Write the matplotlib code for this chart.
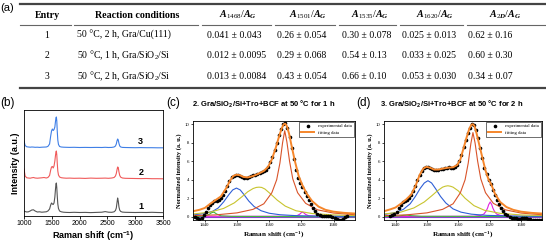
import numpy as np
import matplotlib
matplotlib.use('Agg')
import matplotlib.pyplot as plt

plt.rcParams['font.family'] = 'Liberation Sans'
plt.rcParams['mathtext.fontset'] = 'custom'
plt.rcParams['mathtext.rm'] = 'Liberation Serif'
plt.rcParams['mathtext.it'] = 'Liberation Serif:italic:bold'
plt.rcParams['mathtext.bf'] = 'Liberation Serif:bold'
plt.rcParams['mathtext.sf'] = 'Liberation Sans:bold'

# ---- (a) table ----
headers = ['Entry', 'Reaction conditions', r'$\mathit{A_{1468}/A_{G}}$', r'$\mathit{A_{1501}/A_{G}}$',
           r'$\mathit{A_{1535}/A_{G}}$', r'$\mathit{A_{1620}/A_{G}}$', r'$\mathit{A_{2D}/A_{G}}$']
entries = ['1', '2', '3']
conditions = ['50 °C, 2 h, Gra/Cu(111)', r'50 °C, 1 h, Gra/SiO$_2$/Si', r'50 °C, 2 h, Gra/SiO$_2$/Si']
a1468 = ['0.041 ± 0.043', '0.012 ± 0.0095', '0.013 ± 0.0084']
a1501 = ['0.26 ± 0.054', '0.29 ± 0.068', '0.43 ± 0.054']
a1535 = ['0.30 ± 0.078', '0.54 ± 0.13', '0.66 ± 0.10']
a1620 = ['0.025 ± 0.013', '0.033 ± 0.025', '0.053 ± 0.030']
a2d = ['0.62 ± 0.16', '0.60 ± 0.30', '0.34 ± 0.07']

# ---- (b) Raman spectra ----
spec_x = [1000, 1020, 1050, 1080, 1110, 1140, 1170, 1200, 1240, 1280, 1320, 1360, 1400, 1430, 1460,
          1480, 1495, 1510, 1525, 1540, 1555, 1565, 1575, 1582, 1590, 1598, 1608, 1620, 1640, 1670,
          1710, 1760, 1820, 1900, 2000, 2100, 2200, 2300, 2400, 2460, 2520, 2580, 2620, 2645, 2660,
          2672, 2684, 2695, 2708, 2722, 2740, 2770, 2820, 2900, 3000, 3100, 3200, 3300, 3400, 3500]
spec1 = [2, 1.5, 1, 1.2, 2, 3, 3.2, 2, 1, 1.2, 0.8, 1, 1.2, 2, 4,
         8, 10, 9, 8.5, 10, 16, 23, 29, 30, 25, 17, 9, 4.5, 2, 1.2,
         0.8, 0.6, 0.5, 0.7, 0.5, 0.6, 0.4, 0.6, 0.8, 1.4, 0.8, 0.7, 1.2, 2.5, 5,
         10, 15, 12, 6, 2.8, 1.5, 0.9, 0.7, 0.6, 0.5, 0.6, 0.5, 0.7, 0.5, 0.4]
spec2 = [10, 3, 1.2, 1, 0.8, 1.2, 1.5, 1.0, 0.8, 1.0, 1.2, 1.5, 1.0, 1.5, 3.5,
         9, 12, 12.5, 11, 13, 18, 23, 27, 28, 24, 16, 8, 4, 2, 1.3,
         1, 0.8, 0.9, 0.7, 0.8, 0.6, 0.9, 0.7, 0.8, 0.9, 0.7, 1.0, 1.5, 3, 5.5,
         9, 12, 11.5, 7, 3.5, 1.8, 1.0, 0.7, 0.6, 0.5, 0.4, 0.5, 0.3, 0.3, 0.2]
spec3 = [7, 2.5, 1.2, 1.0, 0.8, 1.0, 0.9, 0.7, 0.8, 0.6, 0.8, 0.9, 1.0, 1.6, 4,
         12, 17, 19, 17.5, 18.5, 21, 26, 30, 31, 27, 17, 8, 3.5, 1.5, 1.0,
         0.8, 0.7, 0.6, 0.7, 0.5, 0.6, 0.5, 0.6, 0.5, 0.7, 0.5, 0.6, 1.0, 2, 4,
         7, 9, 8, 4.5, 2, 1.0, 0.6, 0.5, 0.4, 0.3, 0.4, 0.3, 0.3, 0.2, 0.2]
spec_offsets = [3, 37, 68]
spec_names = ['1', '2', '3']
spec_colors = ['#555555', '#f05a5a', '#3f7fe6']

# ---- (c) 1 h fit ----
c_exp_x = [1422, 1426, 1430, 1434, 1438, 1442, 1446, 1450, 1454, 1458, 1462, 1466, 1470, 1474, 1478,
           1482, 1486, 1490, 1494, 1498, 1502, 1506, 1510, 1514, 1518, 1522, 1526, 1530, 1534, 1538,
           1542, 1546, 1550, 1554, 1558, 1562, 1566, 1570, 1574, 1578, 1582, 1586, 1590, 1594, 1598,
           1602, 1606, 1610, 1614, 1618, 1622, 1626, 1630, 1634, 1638, 1642, 1646, 1650, 1654, 1658,
           1662, 1666, 1670, 1674, 1678, 1682, 1686, 1690, 1694, 1698, 1702, 1706]
c_exp_y = [0.0, -0.15, -0.2, -0.1, 0.2, 0.5, 0.9, 1.25, 1.5, 1.65, 1.75, 1.85, 2.0, 2.3, 2.75,
           3.3, 3.85, 4.25, 4.45, 4.55, 4.5, 4.4, 4.3, 4.2, 4.15, 4.25, 4.4, 4.5, 4.5, 4.6,
           4.7, 4.8, 4.9, 5.1, 5.4, 5.9, 6.5, 7.2, 8.0, 8.8, 9.5, 10.0, 10.1, 9.6, 8.6,
           7.4, 6.2, 5.1, 4.2, 3.6, 3.2, 2.7, 2.2, 1.8, 1.35, 0.95, 0.6, 0.35, 0.15, 0.05,
           0.05, 0.1, 0.1, 0.05, -0.05, -0.15, -0.25, -0.3, -0.3, -0.2, -0.05, 0.05]
c_fit_x = [1418, 1430, 1440, 1450, 1460, 1470, 1480, 1487, 1493, 1499, 1505, 1512, 1520, 1530, 1540,
           1550, 1558, 1565, 1572, 1578, 1583, 1587, 1590, 1593, 1597, 1602, 1608, 1615, 1622, 1630,
           1640, 1652, 1665, 1680, 1700, 1720]
c_fit_y = [0.6, 0.75, 0.95, 1.4, 1.8, 2.2, 3.1, 3.9, 4.4, 4.55, 4.5, 4.3, 4.25, 4.4, 4.65,
           4.95, 5.4, 6.2, 7.4, 8.6, 9.5, 10.0, 10.05, 9.8, 9.0, 7.6, 6.0, 4.4, 3.4, 2.5,
           1.7, 1.1, 0.75, 0.55, 0.42, 0.35]
c_blue_x = [1418, 1440, 1455, 1465, 1475, 1485, 1492, 1499, 1506, 1513, 1522, 1532, 1545, 1560, 1580, 1610, 1650, 1720]
c_blue_y = [0.2, 0.35, 0.6, 0.95, 1.6, 2.4, 2.9, 3.1, 2.9, 2.4, 1.7, 1.1, 0.65, 0.38, 0.22, 0.12, 0.07, 0.04]
c_yel_x = [1418, 1450, 1475, 1495, 1510, 1520, 1530, 1536, 1541, 1546, 1552, 1562, 1575, 1590, 1610, 1640, 1680, 1720]
c_yel_y = [0.3, 0.5, 0.9, 1.5, 2.2, 2.7, 3.05, 3.17, 3.2, 3.17, 3.0, 2.5, 1.8, 1.15, 0.65, 0.35, 0.2, 0.12]
c_red_x = [1418, 1460, 1500, 1530, 1550, 1565, 1574, 1580, 1585, 1589, 1593, 1598, 1604, 1613, 1628, 1650, 1680, 1720]
c_red_y = [0.12, 0.2, 0.42, 0.8, 1.4, 2.6, 4.0, 5.8, 8.0, 9.3, 8.1, 6.0, 4.1, 2.6, 1.45, 0.75, 0.4, 0.22]
c_grn_x = [1418, 1440, 1448, 1453, 1457, 1462, 1470, 1490, 1720]
c_grn_y = [0.02, 0.08, 0.25, 0.45, 0.5, 0.3, 0.1, 0.04, 0.0]
c_mag_x = [1418, 1600, 1612, 1617, 1620, 1622, 1624, 1628, 1634, 1650, 1720]
c_mag_y = [0.04, 0.06, 0.12, 0.28, 0.45, 0.5, 0.45, 0.25, 0.1, 0.05, 0.04]

# ---- (d) 2 h fit ----
d_exp_x = [1430, 1434, 1438, 1442, 1446, 1450, 1454, 1458, 1462, 1466, 1470, 1474, 1478, 1482, 1486,
           1490, 1494, 1498, 1502, 1506, 1510, 1514, 1518, 1522, 1526, 1530, 1534, 1538, 1542, 1546,
           1550, 1554, 1558, 1562, 1566, 1570, 1574, 1578, 1582, 1586, 1590, 1594, 1598, 1602, 1606,
           1610, 1614, 1618, 1622, 1626, 1630, 1634, 1638, 1642, 1646, 1650, 1654, 1658, 1662, 1666,
           1670, 1674, 1678, 1682, 1686, 1690, 1694, 1698, 1702, 1706, 1710, 1714, 1718]
d_exp_y = [0.05, 0.15, 0.3, 0.55, 0.95, 1.3, 1.55, 1.7, 1.85, 2.0, 2.3, 2.75, 3.35, 4.0, 4.55,
           4.95, 5.25, 5.35, 5.35, 5.25, 5.15, 5.1, 5.05, 5.1, 5.15, 5.2, 5.25, 5.3, 5.35, 5.3,
           5.3, 5.4, 5.6, 6.0, 6.7, 7.5, 8.3, 9.0, 9.6, 10.05, 9.95, 9.4, 8.5, 7.4, 6.3,
           5.3, 4.6, 4.0, 3.5, 2.9, 2.3, 1.8, 1.35, 0.95, 0.6, 0.35, 0.15, 0.0, -0.1, -0.15,
           -0.15, -0.2, -0.2, -0.15, -0.1, -0.15, -0.2, -0.25, -0.3, -0.3, -0.35, -0.35, -0.3]
d_fit_x = [1418, 1430, 1440, 1450, 1460, 1470, 1478, 1486, 1493, 1499, 1506, 1514, 1522, 1530, 1540,
           1550, 1558, 1564, 1570, 1576, 1581, 1585, 1588, 1591, 1595, 1600, 1606, 1612, 1618, 1623,
           1630, 1640, 1652, 1665, 1680, 1700, 1720]
d_fit_y = [0.6, 0.8, 1.0, 1.4, 1.85, 2.4, 3.3, 4.5, 5.2, 5.4, 5.3, 5.1, 5.1, 5.2, 5.3,
           5.35, 5.6, 6.2, 7.4, 8.6, 9.5, 9.95, 10.0, 9.8, 9.0, 7.8, 6.4, 5.0, 4.0, 3.5,
           2.5, 1.6, 1.05, 0.75, 0.55, 0.42, 0.35]
d_blue_x = [1418, 1440, 1455, 1468, 1478, 1487, 1495, 1502, 1509, 1517, 1526, 1536, 1550, 1565, 1585, 1615, 1660, 1720]
d_blue_y = [0.25, 0.45, 0.8, 1.4, 2.2, 3.05, 3.65, 3.9, 3.65, 3.0, 2.2, 1.5, 0.85, 0.5, 0.28, 0.15, 0.08, 0.05]
d_yel_x = [1418, 1450, 1475, 1495, 1510, 1520, 1530, 1535, 1540, 1545, 1550, 1560, 1573, 1590, 1610, 1640, 1680, 1720]
d_yel_y = [0.3, 0.5, 0.95, 1.6, 2.3, 2.8, 3.2, 3.3, 3.35, 3.3, 3.2, 2.8, 2.0, 1.2, 0.7, 0.37, 0.2, 0.13]
d_red_x = [1418, 1460, 1500, 1530, 1550, 1564, 1573, 1579, 1584, 1588, 1592, 1597, 1603, 1612, 1627, 1650, 1680, 1720]
d_red_y = [0.12, 0.2, 0.42, 0.8, 1.4, 2.6, 4.0, 5.8, 7.9, 9.1, 8.0, 6.0, 4.1, 2.6, 1.45, 0.75, 0.4, 0.22]
d_grn_x = [1418, 1445, 1455, 1462, 1470, 1490, 1720]
d_grn_y = [0.03, 0.08, 0.15, 0.17, 0.12, 0.05, 0.02]
d_mag_x = [1418, 1590, 1603, 1609, 1613, 1616, 1618, 1621, 1624, 1626, 1629, 1633, 1640, 1655, 1720]
d_mag_y = [0.02, 0.06, 0.15, 0.3, 0.6, 0.95, 1.3, 1.6, 1.3, 0.95, 0.6, 0.3, 0.15, 0.06, 0.02]
base_x = [1418, 1720]
base_y = [0.0, 0.0]

fig = plt.figure(figsize=(5.46, 2.43), dpi=100)

# overlay in pixel coords for table and panel letters
ax_t = fig.add_axes([0, 0, 1, 1])
ax_t.set_xlim(0, 546)
ax_t.set_ylim(243, 0)
ax_t.axis('off')

ax_t.plot([20, 546], [4, 4], color='#444444', lw=1.6)
ax_t.plot([20, 546], [88, 88], color='#444444', lw=1.6)
for x0, x1 in [(20, 71), (74, 198), (202, 271), (275, 335), (339, 396), (400, 463), (467, 546)]:
    ax_t.plot([x0, x1], [25, 25], color='#666666', lw=0.8)

head_x = [47, 137, 238, 308, 370, 435, 505]
for hx, h in zip(head_x, headers):
    ax_t.text(hx, 15, h, ha='center', va='center', fontsize=7.2, family='Liberation Serif', weight='bold')

row_y = [35, 55, 76]
col_left = [207, 277, 342, 402, 468]
for i in range(3):
    ax_t.text(47, row_y[i], entries[i], ha='center', va='center', fontsize=7, family='Liberation Serif')
    ax_t.text(77, row_y[i], conditions[i], ha='left', va='center', fontsize=7, family='Liberation Serif')
    for cx, col in zip(col_left, [a1468, a1501, a1535, a1620, a2d]):
        ax_t.text(cx, row_y[i], col[i], ha='left', va='center', fontsize=7, family='Liberation Serif')

ax_t.text(0, 8, '(a)', ha='left', va='center', fontsize=8)
ax_t.text(0, 103, '(b)', ha='left', va='center', fontsize=8.5)
ax_t.text(166, 103, '(c)', ha='left', va='center', fontsize=8.5)
ax_t.text(356, 103, '(d)', ha='left', va='center', fontsize=8.5)
ax_t.text(192, 104, r'2. Gra/SiO$_{\mathsf{2}}$/Si+Tro+BCF at 50 °C for 1 h', ha='left', va='center',
          fontsize=5.5, weight='bold')
ax_t.text(380, 104, r'3. Gra/SiO$_{\mathsf{2}}$/Si+Tro+BCF at 50 °C for 2 h', ha='left', va='center',
          fontsize=5.5, weight='bold')

# (b)
ax_b = fig.add_axes([24 / 546, 27 / 243, 139 / 546, 106 / 243])
for spec, off, name, col in zip([spec1, spec2, spec3], spec_offsets, spec_names, spec_colors):
    ax_b.plot(spec_x, np.array(spec) + off, color=col, lw=0.8)
    ax_b.text(3100, off + 7, name, ha='center', va='center', fontsize=6.5, weight='bold')
ax_b.set_xlim(1000, 3500)
ax_b.set_ylim(0, 106)
ax_b.set_yticks([])
ax_b.set_xticks([1000, 1500, 2000, 2500, 3000, 3500])
ax_b.tick_params(axis='x', labelsize=5, length=2, width=0.6, pad=1)
ax_b.set_xlabel(r'Raman shift (cm$^{\mathsf{-1}}$)', fontsize=6.5, weight='bold', labelpad=1)
ax_b.set_ylabel('Intensity (a.u.)', fontsize=6.5, weight='bold', labelpad=3)
for s in ax_b.spines.values():
    s.set_linewidth(0.6)


def fit_panel(ax, ex, ey, fx, fy, bx, by, yx, yy, rx, ry, gx, gy, mx, my):
    ax.plot(base_x, base_y, color='#8a3fd0', lw=0.8)
    ax.plot(mx, my, color='#e020e0', lw=0.8)
    ax.plot(gx, gy, color='#3db83d', lw=0.8)
    ax.plot(bx, by, color='#2f5fd6', lw=0.8)
    ax.plot(yx, yy, color='#c8c42e', lw=0.8)
    ax.plot(rx, ry, color='#d9542a', lw=0.8)
    ax.plot(ex, ey, 'o', color='black', ms=1.6, label='experimental data')
    ax.plot(fx, fy, color='#f5862b', lw=1.4, label='fitting data')
    ax.set_xlim(1418, 1720)
    ax.set_ylim(-0.35, 10.35)
    ax.set_xticks([1440, 1500, 1560, 1620, 1680])
    ax.set_yticks([0, 2, 4, 6, 8, 10])
    ax.tick_params(labelsize=3.4, length=1.5, width=0.5, pad=1)
    for lab in ax.get_xticklabels() + ax.get_yticklabels():
        lab.set_family('Liberation Serif')
    ax.set_xlabel(r'Raman shift (cm$^{\mathbf{-1}}$)', fontsize=5.2, family='Liberation Serif',
                  weight='bold', labelpad=1)
    ax.set_ylabel('Normalized intensity (a. u.)', fontsize=4.6, family='Liberation Serif',
                  weight='bold', labelpad=2)
    leg = ax.legend(loc='upper right', prop={'family': 'Liberation Serif', 'size': 3.4},
                    fancybox=False, edgecolor='black', framealpha=1, borderaxespad=0.15,
                    handlelength=2.8, borderpad=0.5, labelspacing=0.4)
    leg.get_frame().set_linewidth(0.4)
    for s in ax.spines.values():
        s.set_linewidth(0.6)


ax_c = fig.add_axes([193 / 546, 23 / 243, 162 / 546, 99 / 243])
fit_panel(ax_c, c_exp_x, c_exp_y, c_fit_x, c_fit_y, c_blue_x, c_blue_y, c_yel_x, c_yel_y,
          c_red_x, c_red_y, c_grn_x, c_grn_y, c_mag_x, c_mag_y)
ax_d = fig.add_axes([384 / 546, 23 / 243, 158 / 546, 99 / 243])
fit_panel(ax_d, d_exp_x, d_exp_y, d_fit_x, d_fit_y, d_blue_x, d_blue_y, d_yel_x, d_yel_y,
          d_red_x, d_red_y, d_grn_x, d_grn_y, d_mag_x, d_mag_y)

fig.savefig('out.png', dpi=100)
